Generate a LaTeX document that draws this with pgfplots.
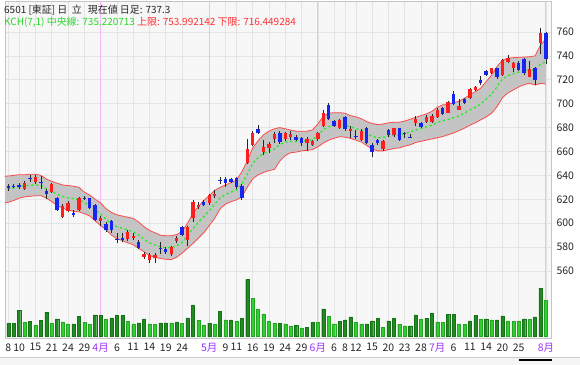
\documentclass[border=0pt]{standalone}
\usepackage{pgfplots}
\pgfplotsset{compat=1.18}
\usepackage{pgfplotstable}
\usepackage{fontspec}
\setmainfont{Noto Sans CJK JP}
\definecolor{cred}{HTML}{FF1E1E}
\definecolor{cblue}{HTML}{1426F0}
\definecolor{bandline}{HTML}{FF4A4A}
\definecolor{bandfill}{HTML}{C4C4C4}
\definecolor{cgreen}{HTML}{22EE22}
\definecolor{vdark}{HTML}{1E8C1E}
\definecolor{vlight}{HTML}{2ED02E}
\definecolor{gridc}{HTML}{E4E4E4}
\definecolor{monthc}{HTML}{F6B8F6}
\definecolor{monthlab}{HTML}{9B30FF}
\definecolor{hdrgreen}{HTML}{2BD62B}
\definecolor{hdrred}{HTML}{FF3030}
\definecolor{plotbg}{HTML}{F7F7F7}

\pgfplotstableread{
i O H L C
3 629 635 628 634
5 634.7 640.6 633 638.4
8 626.4 634 625.5 632.5
10 605 616 604 614.4
11 610.2 618.6 609 616.6
13 610.8 622.3 610 621.3
17 601.8 606 598 604
22 586.5 594 585 592.5
23 587.6 592 586 589.7
25 571.6 576 570 574.1
26 569 575 567 573.4
27 570.6 575 566.5 573.4
30 574 581 572.5 579.8
31 585 589.5 583.5 587.9
33 586 598 580.5 597.1
34 604 619.5 601 618
35 613.5 617.5 611.5 615.5
37 616.7 624.5 615.5 623.6
38 622.8 627.8 621.5 624.5
44 650.6 670.2 649.5 661.8
45 665.4 677.5 664.5 675.7
47 659.8 669.6 657 664
48 662.7 668 659 666
49 670.2 676 667 674.3
51 670.2 676 669 675.2
52 671.9 677 670 674.4
55 666.8 672 660.5 670.2
56 665.7 670 665 669
57 670.2 676 669 675.2
58 681.3 695 680.5 692.5
61 680 687 679 686.4
63 677.3 681.5 671 678.6
65 669.6 678.5 669 677.3
69 662.5 670 660.5 669
71 673.8 680 672.5 679.4
75 683.6 690 681 687
77 685 690.5 684 689
78 684.5 691 684 689.7
79 688.5 696 688 694.5
81 692.5 702.5 692 701.7
83 694.7 703.7 694.5 698
85 704.5 713 704 712
86 711.5 715 711 714.2
89 725.4 730 725 729.6
91 724 737.5 723.5 736.6
92 735.2 741 734 738
93 729.6 735 726.5 733.8
96 722.6 736 722 728.8
98 750.5 763 742 759.4
}\redc

\pgfplotstableread{
i O H L C
0 631.4 632.8 627 629.2
1 631.5 633 629.5 630.9
2 632 633.5 629 630
4 637.8 640 634.7 637.2
6 634.4 639.8 628.6 633.8
7 627.2 628.6 620.6 624.4
9 620.8 622 610 611
12 608.8 611 605 606.9
14 621.5 623 619.5 620.8
15 620.8 621.5 611.5 612.5
16 615.2 616 601.5 602.7
18 599.5 601 593 594
19 601.5 602.5 592 594.5
20 586.6 591.8 583.4 586
21 587.9 592 584 586
24 584.5 586 578 579
28 579.1 584 574 578.5
29 578.2 580 574.5 575.6
32 596.6 597.5 589 590
36 618 619 614 615
39 635.9 638.4 632.8 635.3
40 636.7 638.5 630.5 633.4
41 636.7 637.5 633.5 634.7
42 637.6 638.5 629 630.6
43 631.4 632.8 619 620.8
46 678.6 682 675 675.7
50 675.2 677 666.5 668.2
53 672.4 673.5 669 669.6
54 671 672 665 667.4
59 698.5 700.5 686 686.8
60 685.8 686.5 680.5 681.5
62 689 690 677.5 678.7
64 672.9 678 670.5 672.3
66 679.4 680.5 666 667
67 665.6 667 655 659.8
68 669.6 670.5 665.5 666.9
70 677.6 678.5 672.5 673.8
72 679.4 680 669 670
73 675.1 676.5 671.5 674.5
74 672.5 675 671 671.9
76 683.6 684.5 680 680.8
80 696.1 697 690.5 691.4
82 708 710.5 698.5 699.7
84 703.7 704.5 700 700.9
87 719.8 723 716 717.6
88 727.6 728 723.5 724
90 729.6 730 720.5 722.6
94 734.4 735.5 727 728.2
95 737.2 738 724 725.4
97 729.6 731 716 719.8
99 758.9 760 733 737.3
}\bluec

% Keltner channel: upper U, lower L, centre M
\pgfplotstableread{
i U L M
-1 639 616.5 627.75
0 639.5 617.5 628.5
1 640 619 629.5
2 640.5 621 630.75
3 640.5 622 631.25
4 641 622.5 631.75
5 641 623 632
6 640 623 631.5
7 637 621 629
8 635 618 626.5
9 633.5 615 624.25
10 632 612.5 622.25
11 631.5 611 621.25
12 631 610 620.5
13 630 609.5 619.75
14 626 608 617
15 623.5 606 614.75
16 620 602 611
17 617 598 607.5
18 612 594.5 603.25
19 609 590 599.5
20 607 587 597
21 606 585.5 595.75
22 605 583.5 594.25
23 604 582 593
24 601 579 590
25 597 576 586.5
26 594 573 583.5
27 592 571.5 581.75
28 590 570.5 580.25
29 589.5 569.8 579.65
30 589.5 569.5 579.5
31 590.5 571.5 581
32 593 575 584
33 600 579 589.5
34 608 583 595.5
35 614 587.5 600.75
36 619 592 605.5
37 623 598 610.5
38 627.5 604 615.75
39 630 612 621
40 632 616 624
41 634 618 626
42 636 619.5 627.75
43 643 622 632.5
44 652 630 641
45 663 637 650
46 669 640.5 654.75
47 674 642.5 658.25
48 677 644 660.5
49 679 645 662
50 680 652 666
51 679 656.5 667.75
52 678 659 668.5
53 677 659.5 668.25
54 677 660.5 668.75
55 677 661 669
56 678 661.5 669.75
57 683 664 673.5
58 689.5 667 678.25
59 692 669.5 680.75
60 692.5 671 681.75
61 692.5 672.4 682.45
62 692 672 682
63 690 671 680.5
64 689 669.5 679.25
65 687.5 668 677.75
66 685 665 675
67 683.5 662 672.75
68 682.5 660.5 671.5
69 683 660.5 671.75
70 684 661.5 672.75
71 684.5 662.5 673.5
72 684.5 663 673.75
73 685.5 664.5 675
74 687 665.5 676.25
75 688.5 667.5 678
76 690 668.5 679.25
77 691.5 669.5 680.5
78 693.5 670.5 682
79 697 671.5 684.25
80 699 672.5 685.75
81 699.5 674 686.75
82 701 675.5 688.25
83 702 677.5 689.75
84 704.5 679.5 692
85 707.5 682 694.75
86 710 684 697
87 713 686.5 699.75
88 718.5 689 703.75
89 724 692 708
90 731 697.5 714.25
91 736.5 705 720.75
92 738 709 723.5
93 738.5 711.5 725
94 738.8 714 726.4
95 739 716 727.5
96 739.3 717 728.15
97 740 715.6 727.8
98 749 717 733
99 753.99 716.45 735.22
}\band

% outline of the channel area: upper edge left to right, lower edge right to left
\pgfplotstableread{
x y
-1 639
0 639.5
1 640
2 640.5
3 640.5
4 641
5 641
6 640
7 637
8 635
9 633.5
10 632
11 631.5
12 631
13 630
14 626
15 623.5
16 620
17 617
18 612
19 609
20 607
21 606
22 605
23 604
24 601
25 597
26 594
27 592
28 590
29 589.5
30 589.5
31 590.5
32 593
33 600
34 608
35 614
36 619
37 623
38 627.5
39 630
40 632
41 634
42 636
43 643
44 652
45 663
46 669
47 674
48 677
49 679
50 680
51 679
52 678
53 677
54 677
55 677
56 678
57 683
58 689.5
59 692
60 692.5
61 692.5
62 692
63 690
64 689
65 687.5
66 685
67 683.5
68 682.5
69 683
70 684
71 684.5
72 684.5
73 685.5
74 687
75 688.5
76 690
77 691.5
78 693.5
79 697
80 699
81 699.5
82 701
83 702
84 704.5
85 707.5
86 710
87 713
88 718.5
89 724
90 731
91 736.5
92 738
93 738.5
94 738.8
95 739
96 739.3
97 740
98 749
99 753.99
99 716.45
98 717
97 715.6
96 717
95 716
94 714
93 711.5
92 709
91 705
90 697.5
89 692
88 689
87 686.5
86 684
85 682
84 679.5
83 677.5
82 675.5
81 674
80 672.5
79 671.5
78 670.5
77 669.5
76 668.5
75 667.5
74 665.5
73 664.5
72 663
71 662.5
70 661.5
69 660.5
68 660.5
67 662
66 665
65 668
64 669.5
63 671
62 672
61 672.4
60 671
59 669.5
58 667
57 664
56 661.5
55 661
54 660.5
53 659.5
52 659
51 656.5
50 652
49 645
48 644
47 642.5
46 640.5
45 637
44 630
43 622
42 619.5
41 618
40 616
39 612
38 604
37 598
36 592
35 587.5
34 583
33 579
32 575
31 571.5
30 569.5
29 569.8
28 570.5
27 571.5
26 573
25 576
24 579
23 582
22 583.5
21 585.5
20 587
19 590
18 594.5
17 598
16 602
15 606
14 608
13 609.5
12 610
11 611
10 612.5
9 615
8 618
7 621
6 623
5 623
4 622.5
3 622
2 621
1 619
0 617.5
-1 616.5
}\bandpoly

\pgfplotstableread{
i v
0 13.3
1 13.3
2 26
4 15.3
6 16
7 24.3
9 17.7
12 12.7
13 20.3
16 21.7
17 21.7
19 18.7
20 21
21 21
24 13.7
25 17.7
28 13.7
29 13.7
31 14.7
33 18.7
34 31.7
37 13.3
39 25
41 16.7
43 18.3
44 57
50 13.3
53 11.3
55 9.3
56 14.3
58 27.7
61 15
62 16.7
63 19.7
66 12.7
67 15.7
68 18.3
70 15.7
71 18
74 10.7
75 21.7
77 18.3
78 23.7
81 22.3
82 22.3
85 15.7
86 21
88 17.7
90 16.7
91 20.7
95 17.7
97 19.7
98 48.3
}\voldark

\pgfplotstableread{
i v
3 14.3
5 11.7
8 13.3
10 14.7
11 12.7
14 14
15 12
18 17
22 15
23 12.7
26 12.7
27 12
30 13.7
32 13
35 16
36 11.7
38 12.3
40 16.7
42 15.3
45 38.3
46 27.7
47 22.7
48 15.3
49 13.3
51 12.7
52 10.7
54 8.7
57 14
59 20
60 12.7
64 14
65 12.7
69 9
72 12.3
73 10.7
76 17.3
79 14.7
80 14
83 12.7
84 12
87 17.3
89 16.7
92 15.7
93 15.3
94 15
96 17.3
99 36
}\vollight

\newcommand{\mon}[1]{\textcolor{monthlab}{#1}}

\begin{document}
\begin{tikzpicture}
\fill[white] (0,0) rectangle (580bp,365bp);

\begin{axis}[
  at={(5bp,27bp)}, anchor=south west,
  scale only axis, width=546bp, height=337bp,
  xmin=-0.61, xmax=99.94,
  ymin=503.93, ymax=785.94,
  axis background/.style={fill=plotbg},
  axis line style={draw=gray!45},
  major tick length=0pt,
  xtick={0,2,5,8,11,14,17,20,23,26,29,32,37,40,42,45,48,51,54,57,60,62,64,67,70,73,76,79,82,85,88,91,94,99},
  xticklabels={8,10,15,21,24,29,\mon{4月},6,11,14,19,24,\mon{5月},9,11,16,19,24,29,\mon{6月},6,8,12,15,20,23,28,\mon{7月},6,11,14,20,25,\mon{8月}},
  extra x ticks={17,37,57,79,99},
  extra x tick labels={},
  extra x tick style={grid=major, major grid style={draw=monthc, line width=0.8bp}},
  ytick={560,580,...,760},
  yticklabel pos=right,
  grid=major,
  major grid style={draw=gridc, line width=0.6bp},
  xticklabel style={font=\fontsize{10.5}{12}\selectfont, text=black!85, yshift=-2bp},
  yticklabel style={font=\fontsize{10.5}{12}\selectfont, text=black!85, xshift=2bp},
  /pgf/number format/assume math mode=true,
]
\addplot [fill=bandfill, draw=none, forget plot] table [x=x, y=y] {\bandpoly};
\addplot [draw=bandline, line width=0.8bp, forget plot] table [x=i, y=U] {\band};
\addplot [draw=bandline, line width=0.8bp, forget plot] table [x=i, y=L] {\band};
\addplot [draw=cgreen, line width=1.3bp, dash pattern=on 2.2bp off 2.6bp, forget plot] table [x=i, y=M] {\band};

% wicks
\addplot [draw=none, mark=none, forget plot, error bars/.cd, y dir=plus, y explicit, error mark=none,
  error bar style={draw=black!85, line width=0.7bp}]
  table [x=i, y=L, y error plus expr=\thisrow{H}-\thisrow{L}] {\redc};
\addplot [draw=none, mark=none, forget plot, error bars/.cd, y dir=plus, y explicit, error mark=none,
  error bar style={draw=black!85, line width=0.7bp}]
  table [x=i, y=L, y error plus expr=\thisrow{H}-\thisrow{L}] {\bluec};
% bodies
\addplot [draw=none, mark=none, forget plot, error bars/.cd, y dir=plus, y explicit, error mark=none,
  error bar style={draw=cred, line width=3.4bp}]
  table [x=i, y=O, y error plus expr=\thisrow{C}-\thisrow{O}] {\redc};
\addplot [draw=none, mark=none, forget plot, error bars/.cd, y dir=plus, y explicit, error mark=none,
  error bar style={draw=cblue, line width=3.4bp}]
  table [x=i, y=C, y error plus expr=\thisrow{O}-\thisrow{C}] {\bluec};
\end{axis}

\begin{axis}[
  at={(5bp,27bp)}, anchor=south west,
  scale only axis, width=546bp, height=60bp,
  xmin=-0.61, xmax=99.94,
  ymin=-1.5, ymax=58.5,
  axis lines=none,
  clip=false,
]
\addplot [ybar, bar width=3.1bp, bar shift=0pt, fill=vdark, draw=vdark!80!black, line width=0.3bp] table [x=i, y=v] {\voldark};
\addplot [ybar, bar width=3.1bp, bar shift=0pt, fill=vlight, draw=vlight!80!black, line width=0.3bp] table [x=i, y=v] {\vollight};
\end{axis}

\node[anchor=west, inner sep=0pt, font=\fontsize{10}{12}\selectfont, text=black!85] at (4bp,355bp)
  {6501 [東証] 日\hspace{0.45em}立\hspace{0.6em}現在値 日足: 737.3};
\node[anchor=west, inner sep=0pt, font=\fontsize{10}{12}\selectfont] at (4bp,343bp)
  {\textcolor{hdrgreen}{KCH(7,1) 中央線: 735.220713} \textcolor{hdrred}{上限: 753.992142 下限: 716.449284}};

\fill[gray!8] (0,0) rectangle (580bp,8bp);
\draw[gray!40, line width=0.6bp] (0,8bp) -- (580bp,8bp);
\fill[black] (519bp,4bp) rectangle (552bp,6.2bp);
\pgfresetboundingbox
\useasboundingbox (0,0) rectangle (580bp,365bp);
\end{tikzpicture}
\end{document}
